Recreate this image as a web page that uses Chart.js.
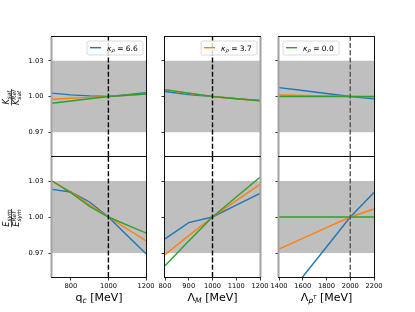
<!DOCTYPE html>
<html>
<head>
<meta charset="utf-8">
<script src="https://cdn.jsdelivr.net/npm/chart.js@4.4.0/dist/chart.umd.min.js"></script>
<style>
  body { margin: 0; background: #fff; }
  #wrap { position: relative; width: 415px; height: 312px; }
  #wrap canvas { position: absolute; left: 0; top: 0; }
</style>
</head>
<body>
<div id="wrap"></div>
<script>
// x values of each scan
const qcValues = [700, 800, 900, 1000, 1100, 1200];
const lamMValues = [800, 900, 1000, 1100, 1200];
const lamRhoValues = [1400, 1600, 1800, 2000, 2200];

// tick labels
const qcTicks = [800, 1000, 1200];
const lamMTicks = [800, 900, 1000, 1100, 1200];
const lamRhoTicks = [1400, 1600, 1800, 2000, 2200];
const yTicks = [0.97, 1.00, 1.03];

// kappa_rho values (legend)
const kappaLabels = ['6.6', '3.7', '0.0'];
const colors = ['#1f77b4', '#ff7f0e', '#2ca02c'];

// K_sat / K_sat^Ref
const ksatQc66 = [1.0028, 1.0014, 1.0005, 1.0, 1.0015, 1.0031];
const ksatQc37 = [0.9977, 0.9985, 0.9993, 1.0, 1.0011, 1.0021];
const ksatQc00 = [0.9943, 0.9962, 0.9981, 1.0, 1.0011, 1.0021];
const ksatLamM66 = [1.0042, 1.0016, 1.0, 0.9982, 0.9966];
const ksatLamM37 = [1.0056, 1.0027, 1.0, 0.9981, 0.9963];
const ksatLamM00 = [1.0058, 1.0028, 1.0, 0.9981, 0.9964];
const ksatLamRho66 = [1.0075, 1.005, 1.0025, 1.0, 0.998];
const ksatLamRho37 = [1.0012, 1.0008, 1.0004, 1.0, 0.9997];
const ksatLamRho00 = [1.0, 1.0, 1.0, 1.0, 1.0];

// E_sym / E_sym^Ref
const esymQc66 = [1.0230, 1.0208, 1.0125, 1.0, 0.9845, 0.9693];
const esymQc37 = [1.0300, 1.0210, 1.0104, 1.0, 0.9900, 0.9802];
const esymQc00 = [1.0300, 1.0203, 1.0089, 1.0, 0.9932, 0.9867];
const esymLamM66 = [0.9817, 0.9953, 1.0, 1.0098, 1.0197];
const esymLamM37 = [0.9686, 0.9845, 1.0, 1.0137, 1.0272];
const esymLamM00 = [0.9594, 0.9800, 1.0, 1.0167, 1.0330];
const esymLamRho66 = [0.922, 0.9502, 0.975, 1.0, 1.0205];
const esymLamRho37 = [0.9733, 0.9822, 0.9911, 1.0, 1.0067];
const esymLamRho00 = [1.0, 1.0, 1.0, 1.0, 1.0];

const bandLow = 0.97, bandHigh = 1.03;
const yMin = 0.95, yMax = 1.05;

const FONT = '"DejaVu Sans", sans-serif';
const YW = 30, XH = 26;
const colL = [52, 165, 279], colR = [146, 260, 374];
const rowT = [37, 157], rowB = [156, 277];

// draw text pieces with sub/superscripts
function drawRich(ctx, parts, x, y, align) {
    let total = 0;
    parts.forEach(p => {
        ctx.font = (p.it ? 'italic ' : '') + p.size + 'px ' + FONT;
        p.w = ctx.measureText(p.t).width;
        total += p.w;
    });
    let cx = align === 'center' ? x - total / 2 : x;
    ctx.textAlign = 'left';
    ctx.textBaseline = 'alphabetic';
    parts.forEach(p => {
        ctx.font = (p.it ? 'italic ' : '') + p.size + 'px ' + FONT;
        ctx.fillText(p.t, cx, y + (p.dy || 0));
        cx += p.w;
    });
    return total;
}

function fracLabel(ctx, letter, sub, cx, cy) {
    ctx.save();
    ctx.translate(cx, cy);
    ctx.rotate(-Math.PI / 2);
    ctx.fillStyle = '#000';
    const big = 8.2, small = 5.8;
    ctx.font = 'italic ' + small + 'px ' + FONT;
    const wSub = ctx.measureText(sub).width, wRef = ctx.measureText('Ref').width;
    ctx.font = 'italic ' + big + 'px ' + FONT;
    const wL = ctx.measureText(letter).width;
    const wDen = wL + Math.max(wSub, wRef);
    drawRich(ctx, [{t: letter, size: big, it: true}, {t: sub, size: small, it: true, dy: 1.7}], 0, -2.2, 'center');
    ctx.fillRect(-wDen / 2 - 0.5, -0.3, wDen + 1, 0.7);
    const x0 = -wDen / 2;
    drawRich(ctx, [{t: letter, size: big, it: true}], x0, 7.6, 'left');
    drawRich(ctx, [{t: 'Ref', size: small, it: true}], x0 + wL, 4.4, 'left');
    drawRich(ctx, [{t: sub, size: small, it: true}], x0 + wL, 9.6, 'left');
    ctx.restore();
}

const deco = {
    id: 'deco',
    afterDraw(chart, args, o) {
        const ctx = chart.ctx, a = chart.chartArea;
        ctx.save();
        // frame
        ctx.strokeStyle = '#111';
        ctx.lineWidth = 1;
        ctx.strokeRect(a.left - 0.5, a.top - 0.5, a.right - a.left + 1, a.bottom - a.top + 1);
        // gray edge
        ctx.fillStyle = '#a3a3a3';
        if (o.grayEdge === 'left') ctx.fillRect(a.left - 1.5, a.top, 2, a.bottom - a.top);
        if (o.grayEdge === 'right') ctx.fillRect(a.right - 0.5, a.top, 2, a.bottom - a.top);
        ctx.fillStyle = '#000';
        // legend
        if (o.legend != null) {
            const w = 56, h = 14;
            const bx = o.legendSide === 'left' ? a.left + 4 : a.right - 3 - w;
            const by = a.top + 4;
            ctx.fillStyle = 'rgba(255,255,255,0.8)';
            ctx.strokeStyle = '#d0d0d0';
            ctx.lineWidth = 0.8;
            ctx.beginPath();
            ctx.roundRect(bx, by, w, h, 2);
            ctx.fill();
            ctx.stroke();
            ctx.strokeStyle = colors[o.legend];
            ctx.lineWidth = 1.4;
            ctx.beginPath();
            ctx.moveTo(bx + 3, by + 6.7);
            ctx.lineTo(bx + 14, by + 6.7);
            ctx.stroke();
            ctx.fillStyle = '#000';
            drawRich(ctx, [
                {t: 'κ', size: 7.5, it: true},
                {t: 'ρ', size: 5.3, it: true, dy: 1.8},
                {t: ' = ' + kappaLabels[o.legend], size: 7.5}
            ], bx + 20, by + 9.6, 'left');
        }
        // x label
        if (o.xLabel) {
            ctx.fillStyle = '#000';
            drawRich(ctx, o.xLabel, (a.left + a.right) / 2, 300.5, 'center');
        }
        if (o.yLabel) fracLabel(ctx, o.yLabel[0], o.yLabel[1], 11.5, (a.top + a.bottom) / 2 + 1);
        ctx.restore();
    }
};

const xLabels = [
    [{t: 'q', size: 11}, {t: 'c', size: 7.7, it: true, dy: 2.5}, {t: ' [MeV]', size: 11}],
    [{t: 'Λ', size: 11}, {t: 'M', size: 7.7, it: true, dy: 2.5}, {t: ' [MeV]', size: 11}],
    [{t: 'Λ', size: 11}, {t: 'ρ', size: 7.7, it: true, dy: 2.5}, {t: 'T', size: 5.5, it: true, dy: -1.5}, {t: ' [MeV]', size: 11}]
];

const panels = [
    {row: 0, col: 0, xs: qcValues, ys: [ksatQc66, ksatQc37, ksatQc00], xr: [700, 1200], ticks: qcTicks, ref: 1000},
    {row: 0, col: 1, xs: lamMValues, ys: [ksatLamM66, ksatLamM37, ksatLamM00], xr: [800, 1200], ticks: lamMTicks, ref: 1000},
    {row: 0, col: 2, xs: lamRhoValues, ys: [ksatLamRho66, ksatLamRho37, ksatLamRho00], xr: [1400, 2200], ticks: lamRhoTicks, ref: 2000},
    {row: 1, col: 0, xs: qcValues, ys: [esymQc66, esymQc37, esymQc00], xr: [700, 1200], ticks: qcTicks, ref: 1000},
    {row: 1, col: 1, xs: lamMValues, ys: [esymLamM66, esymLamM37, esymLamM00], xr: [800, 1200], ticks: lamMTicks, ref: 1000},
    {row: 1, col: 2, xs: lamRhoValues, ys: [esymLamRho66, esymLamRho37, esymLamRho00], xr: [1400, 2200], ticks: lamRhoTicks, ref: 2000}
];

const wrap = document.getElementById('wrap');

panels.forEach(p => {
    const canvas = document.createElement('canvas');
    canvas.width = 415;
    canvas.height = 312;
    wrap.appendChild(canvas);

    const datasets = [];
    // shaded band
    datasets.push({
        data: [{x: p.xr[0], y: bandHigh}, {x: p.xr[1], y: bandHigh}],
        fill: {value: bandLow},
        backgroundColor: '#bfbfbf',
        borderWidth: 0,
        pointRadius: 0,
        order: 10
    });
    p.ys.forEach((arr, i) => {
        datasets.push({
            data: p.xs.map((x, j) => ({x: x, y: arr[j]})),
            borderColor: colors[i],
            borderWidth: 1.4,
            pointRadius: 0,
            fill: false,
            tension: 0,
            order: 5 - i
        });
    });
    // reference line
    datasets.push({
        data: [{x: p.ref, y: yMin}, {x: p.ref, y: yMax}],
        borderColor: p.col === 2 ? '#555' : '#000',
        borderWidth: 1.4,
        borderDash: [5, 2.2],
        pointRadius: 0,
        fill: false,
        order: 0
    });

    const decoOpts = {
        grayEdge: p.col === 1 ? 'right' : 'left',
        legend: p.row === 0 ? p.col : null,
        legendSide: p.col === 2 ? 'left' : 'right',
        xLabel: p.row === 1 ? xLabels[p.col] : null,
        yLabel: p.col === 0 ? (p.row === 0 ? ['K', 'sat'] : ['E', 'sym']) : null
    };

    new Chart(canvas, {
        type: 'line',
        data: {datasets: datasets},
        options: {
            responsive: false,
            animation: false,
            devicePixelRatio: 1,
            layout: {
                padding: {
                    left: colL[p.col] - YW,
                    right: 415 - colR[p.col],
                    top: rowT[p.row],
                    bottom: 312 - rowB[p.row] - XH
                }
            },
            plugins: {
                legend: {display: false},
                tooltip: {enabled: false},
                deco: decoOpts
            },
            scales: {
                x: {
                    type: 'linear',
                    min: p.xr[0],
                    max: p.xr[1],
                    afterFit: s => { s.height = XH; },
                    afterBuildTicks: s => { s.ticks = p.ticks.map(v => ({value: v})); },
                    border: {display: false},
                    grid: {drawOnChartArea: false, drawTicks: p.row === 1, tickLength: 3.5, tickColor: '#000', tickWidth: 0.8},
                    ticks: {
                        display: p.row === 1,
                        autoSkip: false,
                        maxRotation: 0,
                        padding: 2,
                        color: '#000',
                        font: {family: FONT, size: 6.7},
                        callback: v => String(v)
                    }
                },
                y: {
                    type: 'linear',
                    min: yMin,
                    max: yMax,
                    afterFit: s => { s.width = YW; },
                    afterBuildTicks: s => { s.ticks = yTicks.map(v => ({value: v})); },
                    border: {display: false},
                    grid: {drawOnChartArea: false, drawTicks: true, tickLength: 3.5, tickColor: '#000', tickWidth: 0.8},
                    ticks: {
                        display: p.col === 0,
                        padding: 5,
                        color: '#000',
                        font: {family: FONT, size: 6.7},
                        callback: v => v.toFixed(2)
                    }
                }
            }
        },
        plugins: [deco]
    });
});
</script>
</body>
</html>
